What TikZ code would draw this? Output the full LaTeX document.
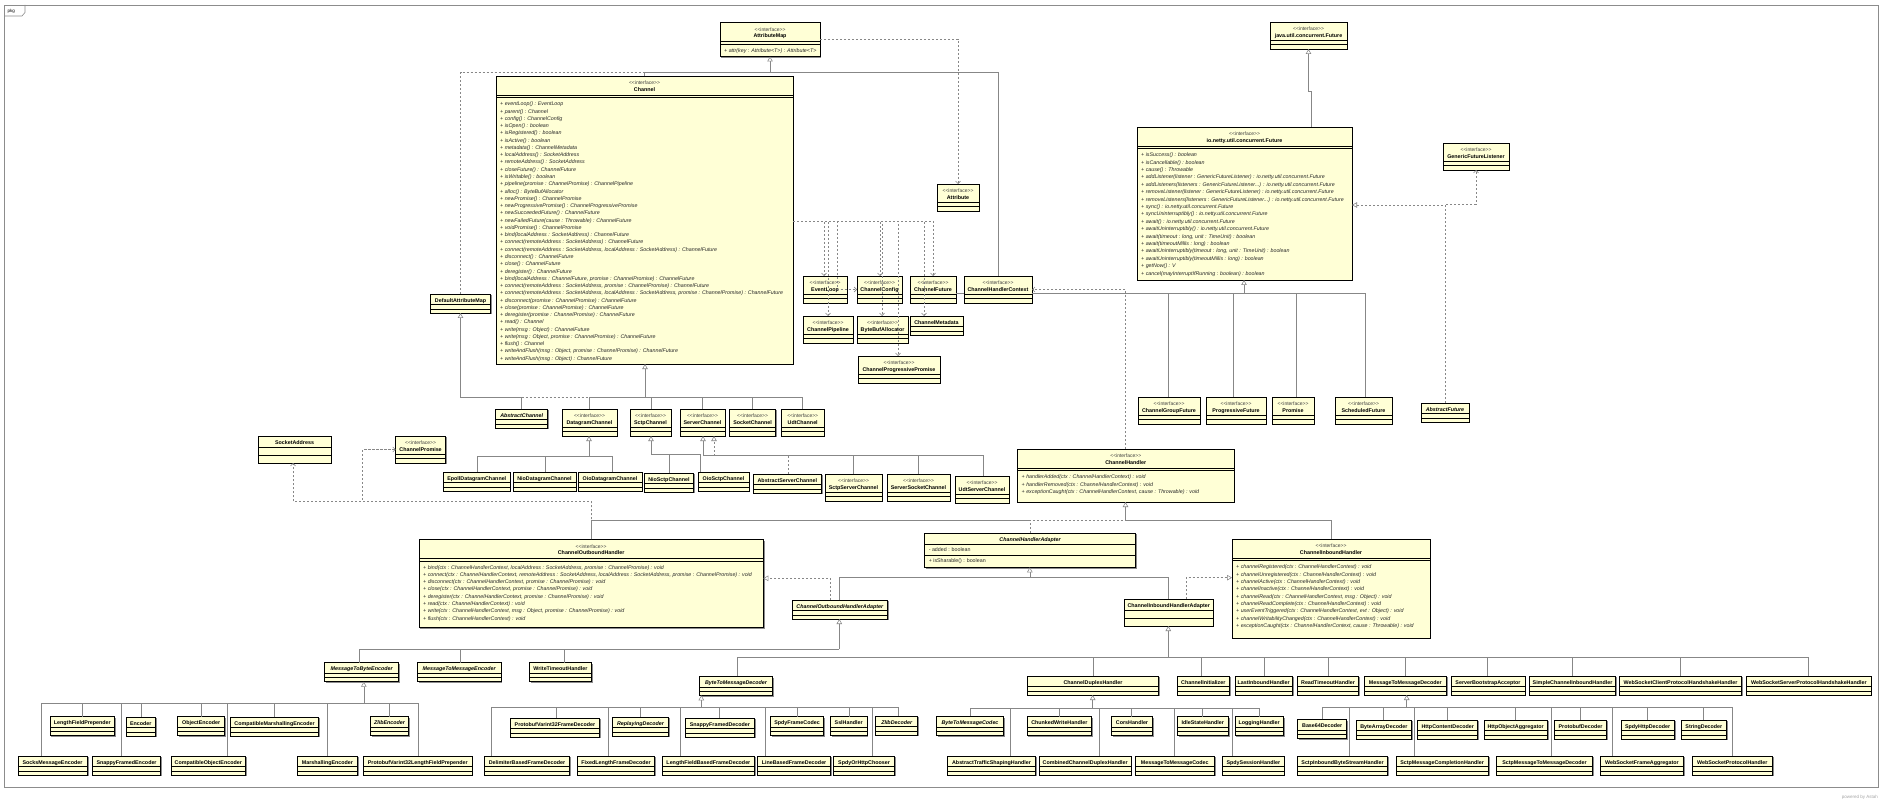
\documentclass[tikz,border=0pt]{standalone}
\usepackage{fontspec}
\setmainfont{Liberation Sans}
\usetikzlibrary{arrows.meta,calc,shadows}
\definecolor{boxfill}{RGB}{255,255,214}
\definecolor{lncol}{RGB}{135,135,135}
\newcommand\iface{<\kern0pt<interface>\kern0pt>}
\tikzset{
  cls/.style={draw=black, line width=0.75pt, fill=boxfill, inner sep=0pt, outer sep=0pt,
     drop shadow={shadow xshift=1.4pt, shadow yshift=-1.4pt, fill=black!45, opacity=1}},
  cname/.style={font=\fontsize{5.35}{6}\selectfont\bfseries, inner sep=0pt},
  stereo/.style={font=\fontsize{5}{6}\selectfont, inner sep=0pt, text=black!75},
  cmem/.style={font=\fontsize{5.3}{6}\selectfont, inner sep=0pt, text=black!85},
  cmemi/.style={font=\fontsize{5.3}{6}\selectfont\itshape, inner sep=0pt, text=black!85},
  cdiv/.style={draw=black, line width=0.5pt},
  ln/.style={draw=lncol, line width=0.55pt},
  lnd/.style={ln, dash pattern=on 2.2pt off 1.8pt},
  gen/.style={ln, -{Triangle[open, length=5pt, width=5.5pt, fill=white]}},
  real/.style={lnd, -{Triangle[open, length=5pt, width=5.5pt, fill=white]}},
  dep/.style={lnd, -{Straight Barb[length=2.5pt, width=5pt]}},
}
\newcommand\regbox[2]{\expandafter\xdef\csname bx@#1\endcsname{#2}}
% plain class, height 19
\newcommand\pbox[6][]{%
  \node[cls, minimum width=#5, minimum height=19, anchor=north west] (#2) at (#3,#4) {};
  \regbox{#2}{#3}%
  \node[cname, anchor=base] (#2-n) at ($(#2.north)+(0,8.2)$) {#1#6};
  \draw[cdiv] ($(#2.north west)+(0,10.5)$) -- ++(#5,0);
  \draw[cdiv] ($(#2.north west)+(0,14.8)$) -- ++(#5,0);
}
% plain class, height 27
\newcommand\tbox[6][]{%
  \node[cls, minimum width=#5, minimum height=27, anchor=north west] (#2) at (#3,#4) {};
  \regbox{#2}{#3}%
  \node[cname, anchor=base] (#2-n) at ($(#2.north)+(0,8.5)$) {#1#6};
  \draw[cdiv] ($(#2.north west)+(0,11.5)$) -- ++(#5,0);
  \draw[cdiv] ($(#2.north west)+(0,19)$) -- ++(#5,0);
}
% interface, height 27
\newcommand\ibox[6][]{%
  \node[cls, minimum width=#5, minimum height=27, anchor=north west] (#2) at (#3,#4) {};
  \regbox{#2}{#3}%
  \node[stereo, anchor=base] (#2-s) at ($(#2.north)+(0,8.7)$) {\iface};
  \node[cname, anchor=base] (#2-n) at ($(#2.north)+(0,15.2)$) {#1#6};
  \draw[cdiv] ($(#2.north west)+(0,18)$) -- ++(#5,0);
  \draw[cdiv] ($(#2.north west)+(0,22.5)$) -- ++(#5,0);
}
% interface with operations
\newcommand\ibig[8]{%
  \node[cls, minimum width=#4, minimum height=#5, anchor=north west] (#1) at (#2,#3) {};
  \regbox{#1}{#2}%
  \node[stereo, anchor=base] (#1-s) at ($(#1.north)+(0,8.7)$) {\iface};
  \node[cname, anchor=base] (#1-n) at ($(#1.north)+(0,15.5)$) {#6};
  \draw[cdiv] ($(#1.north west)+(0,19)$) -- ++(#4,0);
  \draw[cdiv] ($(#1.north west)+(0,21.7)$) -- ++(#4,0);
  \foreach \t [count=\i from 0] in {#8} {
    \node[cmemi, anchor=base west] (#1-op\i) at ($(#1.north west)+(4,29.8+\i*#7)$) {\t};
  }
}
% child connection: vertical from child top to the bar, then along the bar to the junction
\newcommand\kid[4][ln]{%
  \edef\kbx{\csname bx@#2\endcsname}%
  \pgfmathsetmacro\kdx{#3-\kbx}%
  \draw[#1] ($(#2.north west)+(\kdx,0)$) |- (#4);
}
\begin{document}
\begin{tikzpicture}[x=1pt,y=-1pt]
\useasboundingbox (0,0) rectangle (1882,802);
\fill[white] (0,0) rectangle (1882,802);
% frame
\draw[black!45, line width=0.7pt] (4,5) rectangle (1878,787.5);
\draw[black!45, line width=0.6pt] (4,16) -- (22,16) -- (25,12.5) -- (25,5);
\node[font=\fontsize{4.5}{5}\selectfont, inner sep=0pt, anchor=base west] (pkg) at (7.5,13) {pkg};
\node[font=\fontsize{4.5}{5}\selectfont, text=black!35, inner sep=0pt, anchor=base east] (astah) at (1878,798.5) {powered by Astah};

% ---------------- top part ----------------
\ibig{AttributeMap}{720}{22.5}{100}{34}{AttributeMap}{7}{{+ attr(key : Attribute<T>) : Attribute<T>}}
\ibox{JFuture}{1270}{22}{77}{java.util.concurrent.Future}
\ibig{FutureN}{1137}{127}{215}{153}{io.netty.util.concurrent.Future}{7.4}{%
{+ isSuccess() : boolean},
{+ isCancellable() : boolean},
{+ cause() : Throwable},
{+ addListener(listener : GenericFutureListener) : io.netty.util.concurrent.Future},
{+ addListeners(listeners : GenericFutureListener{...}) : io.netty.util.concurrent.Future},
{+ removeListener(listener : GenericFutureListener) : io.netty.util.concurrent.Future},
{+ removeListeners(listeners : GenericFutureListener{...}) : io.netty.util.concurrent.Future},
{+ sync() : io.netty.util.concurrent.Future},
{+ syncUninterruptibly() : io.netty.util.concurrent.Future},
{+ await() : io.netty.util.concurrent.Future},
{+ awaitUninterruptibly() : io.netty.util.concurrent.Future},
{+ await(timeout : long, unit : TimeUnit) : boolean},
{+ await(timeoutMillis : long) : boolean},
{+ awaitUninterruptibly(timeout : long, unit : TimeUnit) : boolean},
{+ awaitUninterruptibly(timeoutMillis : long) : boolean},
{+ getNow() : V},
{+ cancel(mayInterruptIfRunning : boolean) : boolean}}
\ibig{Channel}{496}{76}{297}{288}{Channel}{7.27}{%
{+ eventLoop() : EventLoop},
{+ parent() : Channel},
{+ config() : ChannelConfig},
{+ isOpen() : boolean},
{+ isRegistered() : boolean},
{+ isActive() : boolean},
{+ metadata() : ChannelMetadata},
{+ localAddress() : SocketAddress},
{+ remoteAddress() : SocketAddress},
{+ closeFuture() : ChannelFuture},
{+ isWritable() : boolean},
{+ pipeline(promise : ChannelPromise) : ChannelPipeline},
{+ alloc() : ByteBufAllocator},
{+ newPromise() : ChannelPromise},
{+ newProgressivePromise() : ChannelProgressivePromise},
{+ newSucceededFuture() : ChannelFuture},
{+ newFailedFuture(cause : Throwable) : ChannelFuture},
{+ voidPromise() : ChannelPromise},
{+ bind(localAddress : SocketAddress) : ChannelFuture},
{+ connect(remoteAddress : SocketAddress) : ChannelFuture},
{+ connect(remoteAddress : SocketAddress, localAddress : SocketAddress) : ChannelFuture},
{+ disconnect() : ChannelFuture},
{+ close() : ChannelFuture},
{+ deregister() : ChannelFuture},
{+ bind(localAddress : ChannelFuture, promise : ChannelPromise) : ChannelFuture},
{+ connect(remoteAddress : SocketAddress, promise : ChannelPromise) : ChannelFuture},
{+ connect(remoteAddress : SocketAddress, localAddress : SocketAddress, promise : ChannelPromise) : ChannelFuture},
{+ disconnect(promise : ChannelPromise) : ChannelFuture},
{+ close(promise : ChannelPromise) : ChannelFuture},
{+ deregister(promise : ChannelPromise) : ChannelFuture},
{+ read() : Channel},
{+ write(msg : Object) : ChannelFuture},
{+ write(msg : Object, promise : ChannelPromise) : ChannelFuture},
{+ flush() : Channel},
{+ writeAndFlush(msg : Object, promise : ChannelPromise) : ChannelFuture},
{+ writeAndFlush(msg : Object) : ChannelFuture}}
\ibox{GenericFutureListener}{1443}{143}{66}{GenericFutureListener}
\ibox{Attribute}{937}{184}{42}{Attribute}
\ibox{EventLoop}{803}{276}{44}{EventLoop}
\ibox{ChannelConfig}{857}{276}{45}{ChannelConfig}
\ibox{ChannelFuture}{910}{276}{46}{ChannelFuture}
\ibox{ChannelHandlerContext}{964}{276}{68}{ChannelHandlerContext}
\ibox{ChannelPipeline}{803}{316}{50}{ChannelPipeline}
\ibox{ByteBufAllocator}{857}{316}{51}{ByteBufAllocator}
\pbox{ChannelMetadata}{910}{316}{53}{ChannelMetadata}
\ibox{ChannelProgressivePromise}{858}{356}{82}{ChannelProgressivePromise}
\pbox{DefaultAttributeMap}{430.5}{294}{60}{DefaultAttributeMap}
\ibox{ChannelGroupFuture}{1138}{397}{62}{ChannelGroupFuture}
\ibox{ProgressiveFuture}{1206}{397}{60}{ProgressiveFuture}
\ibox{Promise}{1272}{397}{42}{Promise}
\ibox{ScheduledFuture}{1335}{397}{57}{ScheduledFuture}
\pbox[\itshape]{AbstractFuture}{1421}{403}{48}{AbstractFuture}

% ---------------- channels ----------------
\pbox[\itshape]{AbstractChannel}{495.5}{409}{52.3}{AbstractChannel}
\ibox{DatagramChannel}{562}{409}{55}{DatagramChannel}
\ibox{SctpChannel}{630}{409}{41}{SctpChannel}
\ibox{ServerChannel}{680}{409}{45}{ServerChannel}
\ibox{SocketChannel}{729.6}{409}{46}{SocketChannel}
\ibox{UdtChannel}{781.4}{409}{42.6}{UdtChannel}
\tbox{SocketAddress}{258}{436}{73}{SocketAddress}
\ibox{ChannelPromise}{395.6}{436}{50}{ChannelPromise}
\pbox{EpollDatagramChannel}{443.6}{472}{66.4}{EpollDatagramChannel}
\pbox{NioDatagramChannel}{513}{472}{63}{NioDatagramChannel}
\pbox{OioDatagramChannel}{578}{472}{64}{OioDatagramChannel}
\pbox{NioSctpChannel}{644.7}{473}{48.5}{NioSctpChannel}
\pbox{OioSctpChannel}{698}{472}{51}{OioSctpChannel}
\pbox{AbstractServerChannel}{753}{474}{68.7}{AbstractServerChannel}
\ibox{SctpServerChannel}{825}{474}{57}{SctpServerChannel}
\ibox{ServerSocketChannel}{887}{474}{63}{ServerSocketChannel}
\ibox{UdtServerChannel}{955}{476}{54}{UdtServerChannel}

% ---------------- handlers ----------------
\ibig{ChannelHandler}{1017.5}{449}{216.5}{53}{ChannelHandler}{7.5}{%
{+ handlerAdded(ctx : ChannelHandlerContext) : void},
{+ handlerRemoved(ctx : ChannelHandlerContext) : void},
{+ exceptionCaught(ctx : ChannelHandlerContext, cause : Throwable) : void}}
\ibig{ChannelOutboundHandler}{419}{539.3}{344.3}{88}{ChannelOutboundHandler}{7.29}{%
{+ bind(ctx : ChannelHandlerContext, localAddress : SocketAddress, promise : ChannelPromise) : void},
{+ connect(ctx : ChannelHandlerContext, remoteAddress : SocketAddress, localAddress : SocketAddress, promise : ChannelPromise) : void},
{+ disconnect(ctx : ChannelHandlerContext, promise : ChannelPromise) : void},
{+ close(ctx : ChannelHandlerContext, promise : ChannelPromise) : void},
{+ deregister(ctx : ChannelHandlerContext, promise : ChannelPromise) : void},
{+ read(ctx : ChannelHandlerContext) : void},
{+ write(ctx : ChannelHandlerContext, msg : Object, promise : ChannelPromise) : void},
{+ flush(ctx : ChannelHandlerContext) : void}}
\ibig{ChannelInboundHandler}{1232}{539}{198}{99}{ChannelInboundHandler}{7.33}{%
{+ channelRegistered(ctx : ChannelHandlerContext) : void},
{+ channelUnregistered(ctx : ChannelHandlerContext) : void},
{+ channelActive(ctx : ChannelHandlerContext) : void},
{+ channelInactive(ctx : ChannelHandlerContext) : void},
{+ channelRead(ctx : ChannelHandlerContext, msg : Object) : void},
{+ channelReadComplete(ctx : ChannelHandlerContext) : void},
{+ userEventTriggered(ctx : ChannelHandlerContext, evt : Object) : void},
{+ channelWritabilityChanged(ctx : ChannelHandlerContext) : void},
{+ exceptionCaught(ctx : ChannelHandlerContext, cause : Throwable) : void}}
% ChannelHandlerAdapter (class with attribute and operation)
\node[cls, minimum width=211, minimum height=34.3, anchor=north west] (ChannelHandlerAdapter) at (924.6,533) {};
\regbox{ChannelHandlerAdapter}{924.6}
\node[cname, anchor=base] (ChannelHandlerAdapter-n) at ($(ChannelHandlerAdapter.north)+(0,8)$) {\itshape ChannelHandlerAdapter};
\draw[cdiv] ($(ChannelHandlerAdapter.north west)+(0,11.3)$) -- ++(211,0);
\draw[cdiv] ($(ChannelHandlerAdapter.north west)+(0,22.7)$) -- ++(211,0);
\node[cmem, anchor=base west] (ChannelHandlerAdapter-a) at ($(ChannelHandlerAdapter.north west)+(4,18.8)$) {- added : boolean};
\node[cmem, anchor=base west] (ChannelHandlerAdapter-o) at ($(ChannelHandlerAdapter.north west)+(4,29.8)$) {+ isSharable() : boolean};
\pbox[\itshape]{ChannelOutboundHandlerAdapter}{792.3}{600}{95}{ChannelOutboundHandlerAdapter}
\tbox{ChannelInboundHandlerAdapter}{1124.5}{599}{88.4}{ChannelInboundHandlerAdapter}

% level 1 handlers
\pbox[\itshape]{MessageToByteEncoder}{324.6}{662.7}{74.1}{MessageToByteEncoder}
\pbox[\itshape]{MessageToMessageEncoder}{417.4}{662.7}{83.5}{MessageToMessageEncoder}
\pbox{WriteTimeoutHandler}{529.3}{662.7}{62.2}{WriteTimeoutHandler}
\pbox[\itshape]{ByteToMessageDecoder}{699.5}{676.3}{73}{ByteToMessageDecoder}
\pbox{ChannelDuplexHandler}{1027.5}{676}{131}{ChannelDuplexHandler}
\pbox{ChannelInitializer}{1177.3}{676}{52}{ChannelInitializer}
\pbox{LastInboundHandler}{1235}{676}{57.3}{LastInboundHandler}
\pbox{ReadTimeoutHandler}{1297.7}{676}{60.6}{ReadTimeoutHandler}
\pbox{MessageToMessageDecoder}{1364}{676}{82.7}{MessageToMessageDecoder}
\pbox{ServerBootstrapAcceptor}{1451}{676}{74}{ServerBootstrapAcceptor}
\pbox{SimpleChannelInboundHandler}{1529.3}{676}{86.4}{SimpleChannelInboundHandler}
\pbox{WebSocketClientProtocolHandshakeHandler}{1619.3}{676}{122.4}{WebSocketClientProtocolHandshakeHandler}
\pbox{WebSocketServerProtocolHandshakeHandler}{1746.7}{676}{124.3}{WebSocketServerProtocolHandshakeHandler}

% encoders
\pbox{LengthFieldPrepender}{50}{716.7}{64.7}{LengthFieldPrepender}
\pbox{Encoder}{126.3}{717}{29.1}{Encoder}
\pbox{ObjectEncoder}{177.7}{716.7}{46.9}{ObjectEncoder}
\pbox{CompatibleMarshallingEncoder}{230.8}{717}{87.5}{CompatibleMarshallingEncoder}
\pbox[\itshape]{ZlibEncoder}{370.5}{716.7}{38}{ZlibEncoder}
\pbox{SocksMessageEncoder}{17.9}{756}{69.2}{SocksMessageEncoder}
\pbox{SnappyFramedEncoder}{92.4}{756}{68.3}{SnappyFramedEncoder}
\pbox{CompatibleObjectEncoder}{171}{756}{74.5}{CompatibleObjectEncoder}
\pbox{MarshallingEncoder}{297.8}{756}{59.3}{MarshallingEncoder}
\pbox{ProtobufVarint32LengthFieldPrepender}{363.8}{756}{108.1}{ProtobufVarint32LengthFieldPrepender}

% decoders
\pbox{ProtobufVarint32FrameDecoder}{510.5}{718}{89}{ProtobufVarint32FrameDecoder}
\pbox[\itshape]{ReplayingDecoder}{612.8}{717}{55.5}{ReplayingDecoder}
\pbox{SnappyFramedDecoder}{685.7}{718}{68.4}{SnappyFramedDecoder}
\pbox{SpdyFrameCodec}{770.6}{716.7}{52.8}{SpdyFrameCodec}
\pbox{SslHandler}{830.3}{716.7}{36.7}{SslHandler}
\pbox[\itshape]{ZlibDecoder}{875.8}{716}{41.8}{ZlibDecoder}
\pbox{DelimiterBasedFrameDecoder}{484.5}{756}{85}{DelimiterBasedFrameDecoder}
\pbox{FixedLengthFrameDecoder}{577.3}{756}{77.4}{FixedLengthFrameDecoder}
\pbox{LengthFieldBasedFrameDecoder}{662.7}{756}{91.4}{LengthFieldBasedFrameDecoder}
\pbox{LineBasedFrameDecoder}{757.8}{756}{72.5}{LineBasedFrameDecoder}
\pbox{SpdyOrHttpChooser}{833.5}{756}{61.1}{SpdyOrHttpChooser}

% duplex
\pbox[\itshape]{ByteToMessageCodec}{936.5}{716.3}{67}{ByteToMessageCodec}
\pbox{ChunkedWriteHandler}{1027}{716.7}{64.7}{ChunkedWriteHandler}
\pbox{CorsHandler}{1111.7}{716.7}{40.6}{CorsHandler}
\pbox{IdleStateHandler}{1177.3}{716.7}{51}{IdleStateHandler}
\pbox{LoggingHandler}{1235}{716.7}{48.3}{LoggingHandler}
\pbox{AbstractTrafficShapingHandler}{947.3}{756}{88.4}{AbstractTrafficShapingHandler}
\pbox{CombinedChannelDuplexHandler}{1039.3}{756}{91.7}{CombinedChannelDuplexHandler}
\pbox{MessageToMessageCodec}{1135.3}{756}{79}{MessageToMessageCodec}
\pbox{SpdySessionHandler}{1222.7}{756}{61.3}{SpdySessionHandler}

% message to message decoders
\pbox{Base64Decoder}{1297.7}{719.3}{49}{Base64Decoder}
\pbox{ByteArrayDecoder}{1356}{720}{55.7}{ByteArrayDecoder}
\pbox{HttpContentDecoder}{1417.7}{720}{60}{HttpContentDecoder}
\pbox{HttpObjectAggregator}{1484}{720}{63.3}{HttpObjectAggregator}
\pbox{ProtobufDecoder}{1554.3}{720}{52.4}{ProtobufDecoder}
\pbox{SpdyHttpDecoder}{1621}{720}{53.3}{SpdyHttpDecoder}
\pbox{StringDecoder}{1681}{720}{45.7}{StringDecoder}
\pbox{SctpInboundByteStreamHandler}{1297.7}{756}{89.8}{SctpInboundByteStreamHandler}
\pbox{SctpMessageCompletionHandler}{1396}{756}{92.3}{SctpMessageCompletionHandler}
\pbox{SctpMessageToMessageDecoder}{1496.7}{756}{95.6}{SctpMessageToMessageDecoder}
\pbox{WebSocketFrameAggregator}{1600.7}{756}{82.6}{WebSocketFrameAggregator}
\pbox{WebSocketProtocolHandler}{1692.3}{756}{80}{WebSocketProtocolHandler}

% ================= connectors =================
\coordinate (Jam) at (770,72);
\coordinate (Cb) at ($(Channel.north east)+(0,145)$);
\coordinate (Jf) at (1244,293);
\coordinate (Jc) at (645,397);
\coordinate (Jd) at (589,456);
\coordinate (Js) at (651,454);
\coordinate (Jsv) at (703,455.7);
\coordinate (Jsv2) at (714,455.7);
\coordinate (Jh) at (1125.5,520);
\coordinate (Jha) at (1029.8,577.7);
\coordinate (Joa) at (839.3,649.3);
\coordinate (Jmb) at (363.8,703.3);
\coordinate (Jia) at (1168.3,657.5);
\coordinate (Jbd) at (701.3,707.7);
\coordinate (Jdh) at (1092.7,708.3);
\coordinate (Jmd) at (1406.7,707.7);

% AttributeMap
\draw[lnd] ($(DefaultAttributeMap.north west)+(30,0)$) |- (Jam);
\kid{Channel}{644}{Jam}
\kid{ChannelHandlerContext}{998}{Jam}
\draw[gen] (Jam) -- (AttributeMap.south -| Jam);
\draw[dep] ($(AttributeMap.north east)+(0,16.5)$) -| (Attribute.north);

% Channel dependencies
\draw[dep] (Cb) -| ($(EventLoop.north west)+(21,0)$);
\draw[dep] (Cb) -| ($(ChannelPipeline.north west)+(25,0)$);
\draw[dep] (Cb) -| ($(EventLoop.north west)+(34,0)$) |- (ChannelConfig.west);
\draw[dep] (Cb) -| ($(ChannelConfig.north west)+(23,0)$);
\draw[dep] (Cb) -| ($(ByteBufAllocator.north west)+(25,0)$);
\draw[dep] (Cb) -| ($(ChannelProgressivePromise.north west)+(40,0)$);
\draw[dep] (Cb) -| ($(ChannelMetadata.north west)+(14,0)$);
\draw[dep] (Cb) -| ($(ChannelFuture.north west)+(23,0)$);

% Future
\draw[ln] ($(ChannelFuture.north east)+(0,17)$) -- ($(ChannelHandlerContext.north west)+(0,17)$);
\draw[ln] ($(ChannelHandlerContext.north east)+(0,17)$) -- (Jf);
\kid{ChannelGroupFuture}{1168}{Jf}
\kid{ProgressiveFuture}{1233}{Jf}
\kid{Promise}{1296}{Jf}
\kid{ScheduledFuture}{1365}{Jf}
\draw[gen] (Jf) -- (FutureN.south -| Jf);
\draw[gen] ($(FutureN.north west)+(174,0)$) |- ($(JFuture.south)+(0,42)$) -- (JFuture.south);
\draw[real] ($(AbstractFuture.north west)+(24,0)$) |- ($(FutureN.north east)+(0,78)$);
\draw[dep] ($(AbstractFuture.north west)+(24,0)$) |- ($(GenericFutureListener.south)+(0,34)$) -- (GenericFutureListener.south);

% ChannelHandler -> ChannelHandlerContext
\draw[dep] ($(ChannelHandler.north west)+(108,0)$) |- (ChannelHandlerContext.east);

% Channel tree
\kid[lnd]{AbstractChannel}{521.6}{Jc}
\kid{DatagramChannel}{589}{Jc}
\kid{SctpChannel}{651}{Jc}
\kid{ServerChannel}{702}{Jc}
\kid{SocketChannel}{752}{Jc}
\kid{UdtChannel}{802}{Jc}
\draw[gen] (Jc) -- (Channel.south -| Jc);
\draw[gen] ($(AbstractChannel.north west)+(26.1,0)$) |- ($(DefaultAttributeMap.south west)+(30,84)$) -- ($(DefaultAttributeMap.south west)+(30,0)$);

\kid{EpollDatagramChannel}{477.5}{Jd}
\kid{NioDatagramChannel}{545.4}{Jd}
\kid{OioDatagramChannel}{611.8}{Jd}
\draw[gen] (Jd) -- (DatagramChannel.south -| Jd);
\kid{NioSctpChannel}{669}{Js}
\kid{OioSctpChannel}{700.5}{Js}
\draw[gen] (Js) -- (SctpChannel.south -| Js);
\kid[lnd]{AbstractServerChannel}{787.8}{Jsv2}
\draw[real] (Jsv2) -- (ServerChannel.south -| Jsv2);
\kid{SctpServerChannel}{853}{Jsv}
\kid{ServerSocketChannel}{918.6}{Jsv}
\kid{UdtServerChannel}{983}{Jsv}
\draw[gen] (Jsv) -- (ServerChannel.south -| Jsv);

% ChannelHandler tree
\draw[lnd] ($(ChannelHandlerAdapter.north west)+(105.2,0)$) |- (Jh);
\draw[ln] ($(ChannelOutboundHandler.north west)+(172,0)$) |- ($(ChannelHandlerAdapter.north west)+(105.2,-13)$);
\kid{ChannelInboundHandler}{1331.4}{Jh}
\draw[gen] (Jh) -- (ChannelHandler.south -| Jh);

% ChannelOutboundHandler dependencies
\draw[dep] ($(ChannelOutboundHandler.north west)+(172,0)$) |- ($(SocketAddress.south west)+(35,38.5)$) -- ($(SocketAddress.south west)+(35,0)$);
\draw[dep] ($(ChannelOutboundHandler.north west)+(172,0)$) |- ($(ChannelPromise.west)+(-33,52)$) |- (ChannelPromise.west);

% ChannelHandlerAdapter tree
\kid{ChannelOutboundHandlerAdapter}{839.3}{Jha}
\kid{ChannelInboundHandlerAdapter}{1168}{Jha}
\draw[gen] (Jha) -- (ChannelHandlerAdapter.south -| Jha);
\draw[real] ($(ChannelOutboundHandlerAdapter.north west)+(37.7,0)$) |- ($(ChannelOutboundHandler.north east)+(0,39)$);
\draw[real] ($(ChannelInboundHandlerAdapter.north west)+(61.4,0)$) |- ($(ChannelInboundHandler.north west)+(0,38.7)$);

% outbound adapter tree
\kid{MessageToByteEncoder}{359.4}{Joa}
\kid{MessageToMessageEncoder}{459.8}{Joa}
\kid{WriteTimeoutHandler}{564.7}{Joa}
\draw[gen] (Joa) -- (ChannelOutboundHandlerAdapter.south -| Joa);

% MessageToByteEncoder tree
\kid{SocksMessageEncoder}{41.5}{Jmb}
\kid{LengthFieldPrepender}{82.6}{Jmb}
\kid{SnappyFramedEncoder}{121.4}{Jmb}
\kid{Encoder}{141.5}{Jmb}
\kid{ObjectEncoder}{200.9}{Jmb}
\kid{CompatibleObjectEncoder}{227.7}{Jmb}
\kid{CompatibleMarshallingEncoder}{274.6}{Jmb}
\kid{MarshallingEncoder}{327.2}{Jmb}
\kid{ZlibEncoder}{389.3}{Jmb}
\kid{ProtobufVarint32LengthFieldPrepender}{418.3}{Jmb}
\draw[gen] (Jmb) -- (MessageToByteEncoder.south -| Jmb);

% inbound adapter tree
\kid{ByteToMessageDecoder}{737}{Jia}
\kid{ChannelDuplexHandler}{1093.3}{Jia}
\kid{ChannelInitializer}{1201}{Jia}
\kid{LastInboundHandler}{1264.3}{Jia}
\kid{ReadTimeoutHandler}{1328.3}{Jia}
\kid{MessageToMessageDecoder}{1405.7}{Jia}
\kid{ServerBootstrapAcceptor}{1487.7}{Jia}
\kid{SimpleChannelInboundHandler}{1572.3}{Jia}
\kid{WebSocketClientProtocolHandshakeHandler}{1680.7}{Jia}
\kid{WebSocketServerProtocolHandshakeHandler}{1808.3}{Jia}
\draw[gen] (Jia) -- (ChannelInboundHandlerAdapter.south -| Jia);

% ByteToMessageDecoder tree
\kid{DelimiterBasedFrameDecoder}{491.5}{Jbd}
\kid{ProtobufVarint32FrameDecoder}{555.8}{Jbd}
\kid{FixedLengthFrameDecoder}{608}{Jbd}
\kid{ReplayingDecoder}{640.7}{Jbd}
\kid{LengthFieldBasedFrameDecoder}{680.7}{Jbd}
\kid{SnappyFramedDecoder}{719.7}{Jbd}
\kid{LineBasedFrameDecoder}{765.6}{Jbd}
\kid{SpdyFrameCodec}{797.7}{Jbd}
\kid{SslHandler}{849.6}{Jbd}
\kid{SpdyOrHttpChooser}{872.6}{Jbd}
\kid{ZlibDecoder}{897.8}{Jbd}
\draw[gen] (Jbd) -- (ByteToMessageDecoder.south -| Jbd);

% ChannelDuplexHandler tree
\kid{ByteToMessageCodec}{970}{Jdh}
\kid{AbstractTrafficShapingHandler}{1010}{Jdh}
\kid{ChunkedWriteHandler}{1059.3}{Jdh}
\kid{CombinedChannelDuplexHandler}{1099}{Jdh}
\kid{CorsHandler}{1131.7}{Jdh}
\kid{MessageToMessageCodec}{1174.3}{Jdh}
\kid{IdleStateHandler}{1202.7}{Jdh}
\kid{SpdySessionHandler}{1232.3}{Jdh}
\kid{LoggingHandler}{1259.3}{Jdh}
\draw[gen] (Jdh) -- (ChannelDuplexHandler.south -| Jdh);

% MessageToMessageDecoder tree
\kid{Base64Decoder}{1322.7}{Jmd}
\kid{SctpInboundByteStreamHandler}{1349.3}{Jmd}
\kid{ByteArrayDecoder}{1383.3}{Jmd}
\kid{SctpMessageCompletionHandler}{1414.3}{Jmd}
\kid{HttpContentDecoder}{1447.7}{Jmd}
\kid{HttpObjectAggregator}{1515}{Jmd}
\kid{SctpMessageToMessageDecoder}{1551}{Jmd}
\kid{ProtobufDecoder}{1580}{Jmd}
\kid{WebSocketFrameAggregator}{1612.3}{Jmd}
\kid{SpdyHttpDecoder}{1647.3}{Jmd}
\kid{StringDecoder}{1703.3}{Jmd}
\kid{WebSocketProtocolHandler}{1732.3}{Jmd}
\draw[gen] (Jmd) -- (MessageToMessageDecoder.south -| Jmd);
\end{tikzpicture}
\end{document}
